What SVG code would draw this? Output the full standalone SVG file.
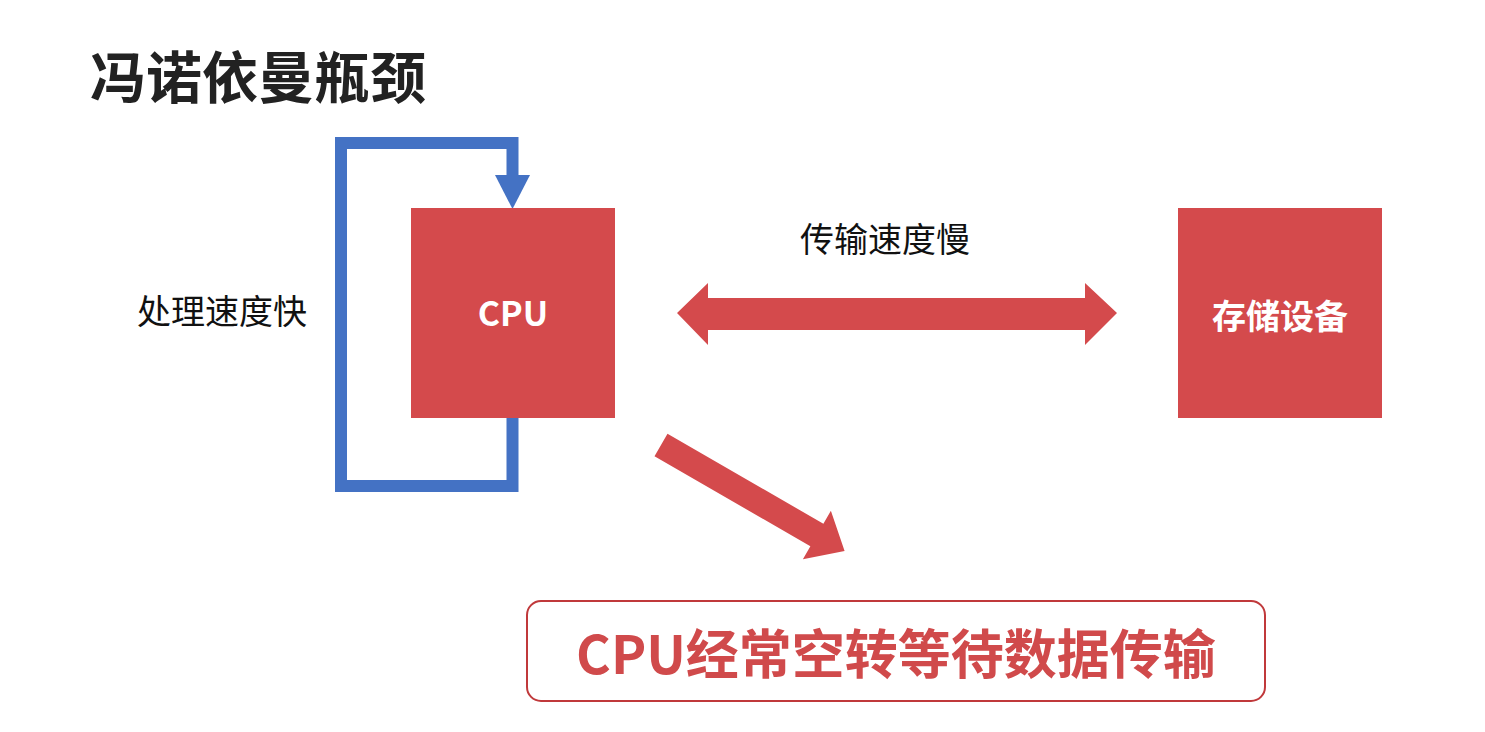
<svg xmlns="http://www.w3.org/2000/svg" width="1485" height="732" viewBox="0 0 1485 732">
<style>
text{font-family:"Noto Sans CJK SC","Noto Sans",sans-serif}
.red{fill:#d44a4c}
.lbl{font-size:34px;fill:#111}
.wt{fill:#fff;font-weight:bold;text-anchor:middle}
</style>
<rect width="1485" height="732" fill="#fff"/>
<text x="90" y="98" font-size="56" font-weight="bold" fill="#222">冯诺依曼瓶颈</text>
<g id="connectors">
<polyline points="512.5,418 512.5,486 341,486 341,143 512.5,143 512.5,178" fill="none" stroke="#4472c4" stroke-width="12"/>
<polygon points="495,175 530,175 512.5,209" fill="#4472c4"/>
<polygon class="red" points="677,313 708,283 708,298 1085,298 1085,283 1117,313 1085,345 1085,330 708,330 708,345"/>
<polygon class="red" transform="translate(661,445) rotate(30)" points="0,-13 180,-13 180,-28 212,0 180,28 180,13 0,13"/>
</g>
<g id="cpu">
<rect class="red" x="411" y="208" width="204" height="210"/>
<text class="wt" x="513" y="326" font-size="34">CPU</text>
</g>
<g id="storage">
<rect class="red" x="1178" y="208" width="204" height="210"/>
<text class="wt" x="1280" y="329" font-size="34">存储设备</text>
</g>
<g id="label-fast"><text class="lbl" x="137" y="324">处理速度快</text></g>
<g id="label-slow"><text class="lbl" x="800" y="252">传输速度慢</text></g>
<g id="result">
<rect x="527" y="601" width="738" height="100" rx="14" fill="#fff" stroke="#c0393b" stroke-width="2"/>
<text x="896" y="674" font-size="53" font-weight="bold" fill="#d04a4b" text-anchor="middle">CPU经常空转等待数据传输</text>
</g>
</svg>
